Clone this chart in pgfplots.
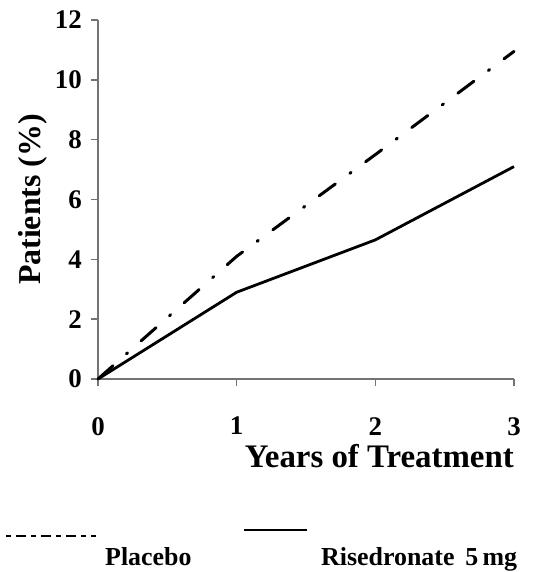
\documentclass[border=0pt]{standalone}
\usepackage{pgfplots}
\pgfplotsset{compat=1.18}
\usepackage{fontspec}
\setmainfont{Liberation Serif}

\begin{document}
\begin{tikzpicture}[font=\bfseries]
\path[use as bounding box] (0,0) rectangle (558bp,572bp);
\begin{axis}[
    at={(98bp,193bp)}, anchor=south west,
    scale only axis,
    width=416bp, height=359bp,
    xmin=0, xmax=3, ymin=0, ymax=12,
    xtick={0,1,2,3},
    ytick={0,2,4,6,8,10,12},
    axis x line*=bottom,
    axis y line*=left,
    axis line style={gray!90!black, line width=2bp},
    tick style={gray!90!black, line width=1.6bp},
    tick align=outside,
    major tick length=7bp,
    /pgf/number format/assume math mode=true,
    ticklabel style={font=\fontsize{27}{30}\selectfont\bfseries, inner sep=0pt},
    yticklabel style={anchor=east, xshift=-9bp},
    xticklabel style={anchor=north, yshift=-31bp},
    xlabel={Years of Treatment},
    xlabel style={font=\fontsize{33}{36}\selectfont\bfseries, inner sep=0pt,
        at={(axis description cs:1,0)}, anchor=base east, yshift=-88bp},
    ylabel={Patients (\%)},
    ylabel style={font=\fontsize{32}{36}\selectfont\bfseries, inner sep=0pt,
        at={(axis description cs:0,0.5)}, anchor=base, yshift=57bp},
    clip=false,
]
% Placebo
\addplot[black, line width=3bp, line cap=round,
    dash pattern=on 20bp off 18bp on 1.5bp off 18bp]
    coordinates {(0,0) (1,4.1) (2,7.5) (3,10.95)};
% Risedronate 5 mg
\addplot[black, line width=2.8bp]
    coordinates {(0,0) (1,2.9) (2,4.65) (3,7.1)};
\end{axis}
% legend
\draw[black, line width=1.6bp, dash pattern=on 5bp off 5bp on 10bp off 5bp]
    (6bp,36bp) -- (96bp,36bp);
\node[anchor=base west, inner sep=0pt, font=\fontsize{26}{30}\selectfont\bfseries]
    at (105bp,6.5bp) {Placebo};
\draw[black, line width=1.8bp] (244bp,42bp) -- (307bp,42bp);
\node[anchor=base west, inner sep=0pt, font=\fontsize{26}{30}\selectfont\bfseries]
    at (321bp,6.5bp) {Risedronate\, 5\,mg};
\end{tikzpicture}
\end{document}
